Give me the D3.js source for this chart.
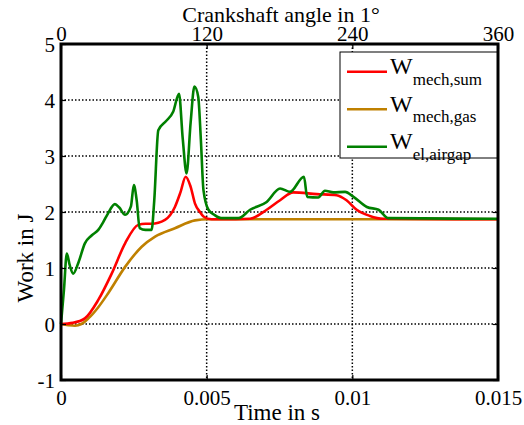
<!DOCTYPE html>
<html>
<head>
<meta charset="utf-8">
<script src="https://cdn.jsdelivr.net/npm/d3@7/dist/d3.min.js"></script>
<style>
  body { margin: 0; background: #fff; }
  svg text { font-family: "Liberation Serif", "DejaVu Serif", serif; fill: #000; }
</style>
</head>
<body>
<svg width="524" height="425"></svg>
<script>
// time ticks (s), angle ticks (deg), work ticks (J)
var timeTicks = [0, 0.005, 0.01, 0.015];
var timeLabels = ["0", "0.005", "0.01", "0.015"];
var angleTicks = [0, 120, 240, 360];
var workTicks = [-1, 0, 1, 2, 3, 4, 5];

// W_mech,sum
var tSum = [0, 0.0004, 0.00082, 0.00128, 0.00174, 0.0022, 0.00265, 0.0029, 0.00311, 0.00357, 0.00391, 0.0041,
  0.00428, 0.00445, 0.0046, 0.00477, 0.00489, 0.00517, 0.0055, 0.00649, 0.00706, 0.00752, 0.00797, 0.00878,
  0.00946, 0.0098, 0.01015, 0.0106, 0.01106, 0.015];
var wSum = [0, 0.02, 0.1, 0.43, 0.9, 1.44, 1.77, 1.79, 1.79, 1.86, 2.09, 2.35,
  2.63, 2.45, 2.15, 2.0, 1.92, 1.87, 1.87, 1.88, 2.04, 2.21, 2.35, 2.32,
  2.3, 2.21, 2.04, 1.93, 1.88, 1.87];

// W_mech,gas
var tGas = [0, 0.00025, 0.00048, 0.0007, 0.00094, 0.00128, 0.00162, 0.0022, 0.00277, 0.00323, 0.00391, 0.0046, 0.00506, 0.015];
var wGas = [0, -0.02, -0.03, 0.0, 0.1, 0.3, 0.55, 1.02, 1.38, 1.56, 1.71, 1.85, 1.87, 1.87];

// W_el,airgap
var tAir = [0, 0.0001, 0.0002, 0.0003, 0.00042, 0.0006, 0.00082, 0.00105, 0.00128, 0.00145, 0.00162, 0.00185,
  0.002, 0.0022, 0.0024, 0.0025, 0.0026, 0.0027, 0.0029, 0.00311, 0.0032, 0.00334, 0.0036, 0.00385,
  0.00405, 0.00418, 0.00431, 0.00445, 0.00458, 0.00471, 0.0048, 0.00489, 0.00506, 0.00526, 0.0055, 0.00609,
  0.00649, 0.00706, 0.00752, 0.00786, 0.00834, 0.00845, 0.00883, 0.00906, 0.00935, 0.00975, 0.01004, 0.0105,
  0.0109, 0.01124, 0.015];
var wAir = [0, 0.6, 1.26, 1.05, 0.9, 1.1, 1.44, 1.58, 1.68, 1.82, 1.98, 2.14,
  2.08, 1.95, 2.1, 2.48, 2.2, 1.71, 1.68, 1.68, 2.2, 3.46, 3.62, 3.79,
  4.11, 3.3, 2.69, 3.6, 4.24, 4.06, 3.3, 2.39, 2.04, 1.95, 1.89, 1.89,
  2.04, 2.18, 2.42, 2.36, 2.63, 2.27, 2.26, 2.38, 2.35, 2.36, 2.27, 2.09,
  2.04, 1.89, 1.88];

var seriesNames = [["W", "mech,sum"], ["W", "mech,gas"], ["W", "el,airgap"]];
var seriesColors = ["#ff0000", "#bf8000", "#008000"];

var svg = d3.select("svg");
var pLeft = 61, pRight = 498, pTop = 44, pBottom = 380;

var x = d3.scaleLinear().domain([0, 0.015]).range([pLeft, pRight]);
var xTop = d3.scaleLinear().domain([0, 360]).range([pLeft, pRight]);
var y = d3.scaleLinear().domain([-1, 5]).range([pBottom, pTop]);

// grid
var grid = svg.append("g")
  .attr("stroke", "#000")
  .attr("stroke-width", 1.5)
  .attr("stroke-dasharray", "1.5,2");
grid.selectAll(".gx")
  .data(timeTicks.slice(1, -1))
  .enter().append("line")
  .attr("x1", function(d) { return x(d); })
  .attr("x2", function(d) { return x(d); })
  .attr("y1", pTop).attr("y2", pBottom);
grid.selectAll(".gy")
  .data(workTicks.slice(1, -1))
  .enter().append("line")
  .attr("y1", function(d) { return y(d); })
  .attr("y2", function(d) { return y(d); })
  .attr("x1", pLeft).attr("x2", pRight);

// curves
var line = d3.line()
  .x(function(d) { return x(d[0]); })
  .y(function(d) { return y(d[1]); })
  .curve(d3.curveMonotoneX);

var series = [d3.zip(tSum, wSum), d3.zip(tGas, wGas), d3.zip(tAir, wAir)];
[1, 0, 2].forEach(function(i) {
  svg.append("path")
    .datum(series[i])
    .attr("fill", "none")
    .attr("stroke", seriesColors[i])
    .attr("stroke-width", 2.6)
    .attr("stroke-linejoin", "round")
    .attr("d", line);
});

// axes (ticks inward)
function styleAxis(g) {
  g.select(".domain").remove();
  g.selectAll("line").attr("stroke", "#000").attr("stroke-width", 1.2);
  g.selectAll("text").attr("font-size", 21).attr("font-family", "Liberation Serif").attr("fill", "#000");
}

svg.append("g")
  .attr("transform", "translate(0," + pBottom + ")")
  .call(d3.axisBottom(x).tickValues(timeTicks).tickSize(-5)
    .tickFormat(function(d, i) { return timeLabels[i]; }))
  .call(styleAxis)
  .selectAll("text").attr("y", 25).attr("dy", null);

svg.append("g")
  .attr("transform", "translate(0," + pTop + ")")
  .call(d3.axisTop(xTop).tickValues(angleTicks).tickSize(-5).tickFormat(String))
  .call(styleAxis)
  .selectAll("text").attr("y", -3).attr("dy", null);

svg.append("g")
  .attr("transform", "translate(" + pLeft + ",0)")
  .call(d3.axisLeft(y).tickValues(workTicks).tickSize(-5).tickFormat(String))
  .call(styleAxis)
  .selectAll("text").attr("x", -6).attr("dy", "0.34em");

svg.append("g")
  .attr("transform", "translate(" + pRight + ",0)")
  .call(d3.axisRight(y).tickValues(workTicks).tickSize(-5).tickFormat(""))
  .call(styleAxis);

// frame
svg.append("rect")
  .attr("x", pLeft).attr("y", pTop)
  .attr("width", pRight - pLeft).attr("height", pBottom - pTop)
  .attr("fill", "none").attr("stroke", "#000").attr("stroke-width", 3);

// titles
svg.append("text").attr("x", 281).attr("y", 22).attr("text-anchor", "middle")
  .attr("font-size", 22).text("Crankshaft angle in 1\u00b0");
svg.append("text").attr("x", 277).attr("y", 420).attr("text-anchor", "middle")
  .attr("font-size", 23).text("Time in s");
svg.append("text").attr("transform", "translate(33,258) rotate(-90)").attr("text-anchor", "middle")
  .attr("font-size", 23).text("Work in J");

// legend
var legend = svg.append("g");
legend.append("rect")
  .attr("x", 340).attr("y", 52).attr("width", 157).attr("height", 106)
  .attr("fill", "#fff").attr("stroke", "#000").attr("stroke-width", 1);

var entry = legend.selectAll(".entry")
  .data(seriesNames)
  .enter().append("g")
  .attr("transform", function(d, i) { return "translate(0," + (71.7 + i * 37.5) + ")"; });
entry.append("line")
  .attr("x1", 347).attr("x2", 387).attr("y1", 0).attr("y2", 0)
  .attr("stroke", function(d, i) { return seriesColors[i]; })
  .attr("stroke-width", 2.6);
var lt = entry.append("text").attr("x", 390).attr("y", 2.5);
lt.append("tspan").attr("font-size", 24).text(function(d) { return d[0]; });
lt.append("tspan").attr("font-size", 17).attr("dy", 10.5).text(function(d) { return d[1]; });
</script>
</body>
</html>
